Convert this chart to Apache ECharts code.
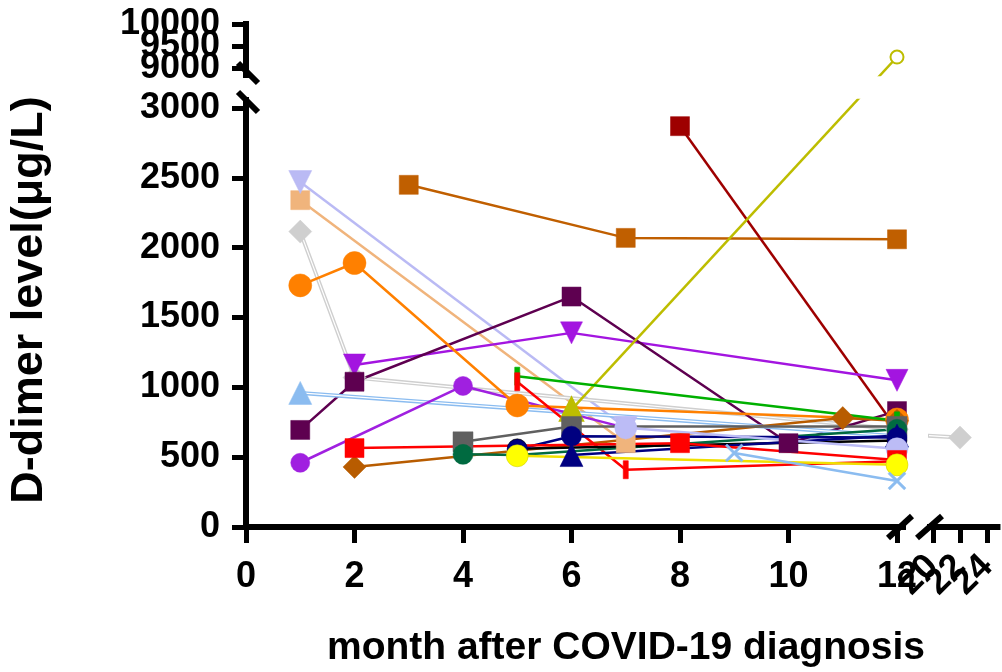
<!DOCTYPE html>
<html>
<head>
<meta charset="utf-8">
<script src="https://cdn.jsdelivr.net/npm/echarts@6/dist/echarts.min.js"></script>
<style>
  html, body { margin: 0; padding: 0; background: #fff; }
  #chart { width: 1002px; height: 672px; }
</style>
</head>
<body>
<div id="chart"></div>
<script>
// D-dimer (µg/L) per patient, [month after diagnosis, value]
var lavenderTri  = [[1, 2470], [7, 710]];
var lavenderDot  = [[7, 710], [12, 560]];
var peachSq      = [[1, 2340], [7, 600]];
var greyDiamond  = [[1, 2115], [2, 1070], [12, 700], [22, 640]];
var orangeDot    = [[1, 1730], [2, 1890], [5, 870], [12, 770]];
var blueTri      = [[1, 960], [12, 650]];
var plumSq       = [[1, 695], [2, 1040], [6, 1650], [10, 600], [12, 830]];
var violetDot    = [[1, 460], [4, 1010], [7, 710]];
var violetTri    = [[2, 1160], [6, 1390], [12, 1050]];
var rustSq       = [[3, 2450], [7, 2070], [12, 2060]];
var maroonSq     = [[8, 2870], [12, 700]];
var brownDiamond = [[2, 430], [11, 780], [12, 760]];
var greySq       = [[4, 610], [6, 720], [12, 720]];
var pineDot      = [[4, 520], [5, 515], [12, 700]];
var greenBar     = [[5, 1080], [12, 760]];
var redBar       = [[5, 1040], [7, 410], [12, 470]];
var blackDot     = [[5, 560], [12, 620]];
var navyDot      = [[5, 555], [6, 650], [12, 640]];
var navyTri      = [[6, 515], [12, 655]];
var oliveTri     = [[6, 840], [12, 9250]];
var redSq        = [[2, 565], [8, 600], [12, 480]];
var yellowDot    = [[5, 510], [12, 445]];
var blueCross    = [[9, 530], [12, 330]];

var yTicksLow  = [0, 500, 1000, 1500, 2000, 2500, 3000];
var yTicksHigh = [9000, 9500, 10000];
var xTicksLeft  = [0, 2, 4, 6, 8, 10, 12];
var xTicksRight = [20, 22, 24];

// layout of the broken axes (pixels)
var X0 = 246, PX_MONTH = 54.25, X_LEFT_END = 903;
var X_RIGHT = 930, PX_MONTH_R = 14.5, X_RIGHT_20 = 933;
var Y0 = 527, PX_UNIT = 419 / 3000, Y_LOW_TOP = 100;
var Y9000 = 68, Y10000 = 24, Y_HIGH_BOTTOM = 75;

// the upper y segment is squeezed; map values so lines cross the break straight
var T9000 = (Y0 - Y9000) / PX_UNIT, T10000 = (Y0 - Y10000) / PX_UNIT;
function ty(v) { return v <= 3000 ? v : T9000 + (v - 9000) * (T10000 - T9000) / 1000; }
function untY(t) { return t <= 3100 ? t : 9000 + (t - T9000) * 1000 / (T10000 - T9000); }

var CROSS = 'path://M2,0 L10,8 L18,0 L20,2 L12,10 L20,18 L18,20 L10,12 L2,20 L0,18 L8,10 L0,2 Z';

// drawing order = stacking order (later on top)
var specs = [
  { d: rustSq,       c: '#c05f00', s: 'rect', z: 19 },
  { d: maroonSq,     c: '#9e0000', s: 'rect', z: 19 },
  { d: peachSq,      c: '#f0b47c', s: 'rect', z: 19 },
  { d: lavenderTri,  c: '#babaf4', s: 'triangle', r: 180, z: 23 },
  { d: greyDiamond,  c: '#cfcfcf', s: 'diamond', z: 23, dbl: true },
  { d: violetTri,    c: '#a315e0', s: 'triangle', r: 180, z: 22 },
  { d: plumSq,       c: '#5e0050', s: 'rect', z: 19 },
  { d: oliveTri,     c: '#bdbd00', s: ['triangle', 'emptyCircle'], z: [20, 13] },
  { d: blueTri,      c: '#8bbcf0', s: 'triangle', z: 23, dbl: true },
  { d: violetDot,    c: '#a020e0', s: 'circle', z: 19 },
  { d: orangeDot,    c: '#ff8000', s: 'circle', z: 23 },
  { d: brownDiamond, c: '#b85c00', s: 'diamond', z: 23 },
  { d: greenBar,     c: '#00b000', s: 'rect', bar: true },
  { d: redBar,       c: '#ff0000', s: 'rect', bar: true },
  { d: greySq,       c: '#606060', s: 'rect', z: 20 },
  { d: pineDot,      c: '#006a40', s: 'circle', z: 20 },
  { d: blackDot,     c: '#000000', s: 'circle', z: 20 },
  { d: navyDot,      c: '#000080', s: 'circle', z: 20 },
  { d: navyTri,      c: '#000080', s: 'triangle', z: 23 },
  { d: lavenderDot,  c: '#bcbcf6', s: 'circle', z: 22 },
  { d: redSq,        c: '#ff0000', s: 'rect', z: 19 },
  { d: yellowDot,    c: '#ffff00', s: 'circle', z: 22, line: '#f0e000', border: '#c8c800' },
  { d: blueCross,    c: '#8bbcf0', s: CROSS, z: 18 }
];

var FONT = '"Liberation Sans", Arial, sans-serif';
var labelStyle = {
  fontFamily: FONT, fontWeight: 'bold', fontSize: 36, color: '#000',
  hideOverlap: false, showMinLabel: true, showMaxLabel: true
};
var lineAxis = { show: true, onZero: false, lineStyle: { color: '#000', width: 6, cap: 'square' } };
var tickStyle = { width: 5, color: '#000' };
function plain(v) { return String(v); }
function highLabel(v) { return String(Math.round(untY(v) / 500) * 500); }

function makeSeries(spec, gi) {
  var multi = Array.isArray(spec.s);
  var ring = multi && spec.s.indexOf('emptyCircle') >= 0;
  return {
    type: 'line',
    xAxisIndex: gi, yAxisIndex: gi,
    clip: true,
    animation: false,
    data: spec.d.map(function (p, i) {
      var item = { value: [p[0], ty(p[1])] };
      if (multi) { item.symbol = spec.s[i]; item.symbolSize = spec.z[i]; }
      return item;
    }),
    symbol: multi ? spec.s[0] : spec.s,
    symbolSize: spec.bar ? [5, 18] : (multi ? spec.z[0] : spec.z),
    symbolRotate: spec.r || 0,
    showAllSymbol: true,
    lineStyle: { color: spec.line || spec.c, width: spec.dbl ? 4 : 2.5 },
    itemStyle: {
      color: spec.c,
      borderColor: spec.border || spec.c,
      borderWidth: ring ? 4 : 0.5
    },
    emphasis: { disabled: true }
  };
}

// thin white core so the light grey / light blue lines look doubled
function makeCore(spec, gi) {
  return {
    type: 'line', xAxisIndex: gi, yAxisIndex: gi, clip: true, animation: false,
    data: spec.d.map(function (p) { return [p[0], ty(p[1])]; }),
    symbol: 'none',
    lineStyle: { color: '#ffffff', width: 1.2 },
    emphasis: { disabled: true }, silent: true
  };
}

var series = [];
[0, 1, 2].forEach(function (gi) {
  specs.forEach(function (sp) {
    series.push(makeSeries(sp, gi));
    if (sp.dbl) series.push(makeCore(sp, gi));
  });
});

var xLeftMax = (X_LEFT_END - X0) / PX_MONTH;
var xRightMin = 20 - (X_RIGHT_20 - X_RIGHT) / PX_MONTH_R;
var xRightMax = xRightMin + (1002 - X_RIGHT) / PX_MONTH_R;
var yLowMax = (Y0 - Y_LOW_TOP) / PX_UNIT;
var yHighMin = (Y0 - Y_HIGH_BOTTOM) / PX_UNIT, yHighMax = T10000 + 0.5;

var chart = echarts.init(document.getElementById('chart'), null, { renderer: 'canvas' });
chart.setOption({
  backgroundColor: '#fff',
  animation: false,
  grid: [
    { left: X0, top: Y_LOW_TOP, width: X_LEFT_END - X0, height: Y0 - Y_LOW_TOP },
    { left: X0, top: Y10000, width: X_LEFT_END - X0, height: Y_HIGH_BOTTOM - Y10000 },
    { left: X_RIGHT, top: Y_LOW_TOP, width: 1002 - X_RIGHT, height: Y0 - Y_LOW_TOP }
  ],
  xAxis: [
    {
      type: 'value', gridIndex: 0, min: 0, max: xLeftMax, position: 'bottom',
      axisLine: lineAxis, splitLine: { show: false },
      axisTick: { show: true, length: 16, lineStyle: tickStyle, customValues: xTicksLeft },
      axisLabel: Object.assign({ margin: 32, customValues: xTicksLeft, formatter: plain }, labelStyle)
    },
    { type: 'value', gridIndex: 1, min: 0, max: xLeftMax, show: false },
    {
      type: 'value', gridIndex: 2, min: xRightMin, max: xRightMax, position: 'bottom',
      axisLine: lineAxis, splitLine: { show: false },
      axisTick: { show: true, length: 16, lineStyle: tickStyle, customValues: xTicksRight },
      axisLabel: Object.assign({ margin: 34, rotate: 45, customValues: [xTicksRight[0], xTicksRight[2]], formatter: plain }, labelStyle)
    },
    {
      // middle label of the short right segment (kept on its own axis so it is not dropped)
      type: 'value', gridIndex: 2, min: xRightMin, max: xRightMax, position: 'bottom', offset: 0,
      axisLine: { show: false }, axisTick: { show: false }, splitLine: { show: false },
      axisLabel: Object.assign({ margin: 34, rotate: 45, customValues: [xTicksRight[1]], formatter: plain }, labelStyle)
    }
  ],
  yAxis: [
    {
      type: 'value', gridIndex: 0, min: 0, max: yLowMax,
      axisLine: lineAxis, splitLine: { show: false },
      axisTick: { show: true, length: 14, lineStyle: tickStyle, customValues: yTicksLow },
      axisLabel: Object.assign({ margin: 26, customValues: yTicksLow, formatter: plain }, labelStyle)
    },
    {
      type: 'value', gridIndex: 1, min: yHighMin, max: yHighMax,
      axisLine: lineAxis, splitLine: { show: false },
      axisTick: { show: true, length: 14, lineStyle: tickStyle, customValues: yTicksHigh.map(ty) },
      axisLabel: Object.assign({
        margin: 26, customValues: [ty(yTicksHigh[0]), ty(yTicksHigh[2])], formatter: highLabel
      }, labelStyle)
    },
    { type: 'value', gridIndex: 2, min: 0, max: yLowMax, show: false },
    {
      type: 'value', gridIndex: 1, min: yHighMin, max: yHighMax, position: 'left',
      axisLine: { show: false }, axisTick: { show: false }, splitLine: { show: false },
      axisLabel: Object.assign({ margin: 26, customValues: [ty(yTicksHigh[1])], formatter: highLabel }, labelStyle)
    }
  ],
  graphic: [
    // axis break marks
    { type: 'line', shape: { x1: 238, y1: 63, x2: 258, y2: 83 }, style: { stroke: '#000', lineWidth: 6 } },
    { type: 'line', shape: { x1: 238, y1: 92, x2: 258, y2: 112 }, style: { stroke: '#000', lineWidth: 6 } },
    { type: 'line', shape: { x1: 888, y1: 538, x2: 912, y2: 516 }, style: { stroke: '#000', lineWidth: 6 } },
    { type: 'line', shape: { x1: 917, y1: 538, x2: 942, y2: 516 }, style: { stroke: '#000', lineWidth: 6 } },
    // axis titles
    {
      type: 'text', x: 30, y: 300, rotation: Math.PI / 2,
      style: { text: 'D-dimer level(μg/L)', font: 'bold 45px ' + FONT, fill: '#000', align: 'center', verticalAlign: 'middle' }
    },
    {
      type: 'text', x: 626, y: 648,
      style: { text: 'month after COVID-19 diagnosis', font: 'bold 39px ' + FONT, fill: '#000', align: 'center', verticalAlign: 'middle' }
    }
  ],
  series: series
});
</script>
</body>
</html>
